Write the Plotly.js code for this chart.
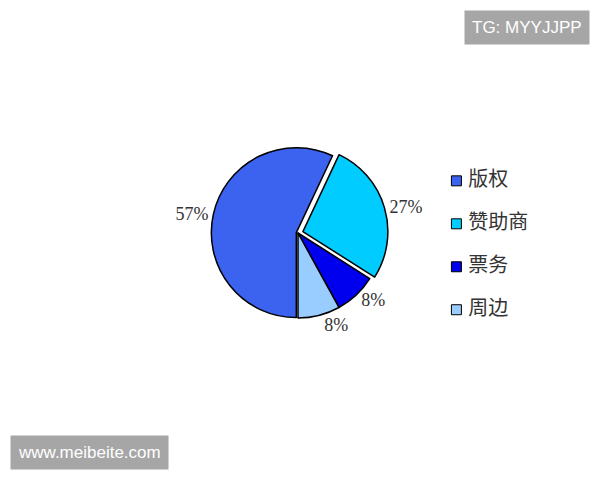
<!DOCTYPE html>
<html>
<head>
<meta charset="utf-8">
<script src="https://cdn.plot.ly/plotly-3.0.1.min.js"></script>
<style>
  html, body { margin: 0; padding: 0; background: #fff; }
  #chart { width: 600px; height: 480px; }
</style>
</head>
<body>
<div id="chart"></div>
<script>
// revenue split
var labels = ['版权', '赞助商', '票务', '周边'];
var shares = [57, 27, 8, 8];
var colors = ['#3c62f0', '#00ccff', '#0000ee', '#99ccff'];
var pulls = [0.02, 0.06, 0, 0];

var pie = {
    type: 'pie',
    labels: labels,
    values: shares,
    pull: pulls,
    sort: false,
    direction: 'clockwise',
    rotation: 180,
    marker: { colors: colors, line: { color: '#000', width: 1.5 } },
    texttemplate: '%{percent:.0%}',
    textposition: 'outside',
    textfont: { family: 'Liberation Serif', size: 18, color: '#333' },
    hoverinfo: 'label+percent',
    showlegend: false,
    domain: { x: [0.3465, 0.6468], y: [0.3269, 0.7023] }
};

// legend drawn as a marker column so the spacing can match
var keys = {
    type: 'scatter',
    mode: 'markers+text',
    x: labels.map(function () { return 0; }),
    y: labels,
    text: labels.map(function (l) { return '\u00a0' + l; }),
    textposition: 'middle right',
    textfont: { family: 'Noto Sans CJK SC', size: 20, color: '#333' },
    marker: { symbol: 'square', size: 10, color: colors, line: { color: '#000', width: 1 } },
    hoverinfo: 'skip',
    showlegend: false,
    cliponaxis: false
};

var hidden = { visible: false, fixedrange: true };

var layout = {
    width: 600,
    height: 480,
    margin: { l: 0, r: 0, t: 0, b: 0 },
    paper_bgcolor: '#fff',
    plot_bgcolor: 'rgba(0,0,0,0)',
    showlegend: false,
    xaxis: Object.assign({ domain: [0.755, 0.95], range: [-0.03, 1] }, hidden),
    yaxis: Object.assign({ domain: [0.31, 0.668], range: [3.5, -0.5], type: 'category' }, hidden),
    annotations: [
        {
            text: 'TG: MYYJJPP', xref: 'paper', yref: 'paper', x: 0.983, y: 0.979,
            xanchor: 'right', yanchor: 'top', showarrow: false,
            font: { family: 'Liberation Sans', size: 17, color: '#fff' },
            bgcolor: '#a6a6a6', borderpad: 7
        },
        {
            text: 'www.meibeite.com', xref: 'paper', yref: 'paper', x: 0.017, y: 0.021,
            xanchor: 'left', yanchor: 'bottom', showarrow: false,
            font: { family: 'Liberation Sans', size: 17, color: '#fff' },
            bgcolor: '#a6a6a6', borderpad: 7
        }
    ]
};

Plotly.newPlot('chart', [pie, keys], layout, { displayModeBar: false, staticPlot: true });
</script>
</body>
</html>
